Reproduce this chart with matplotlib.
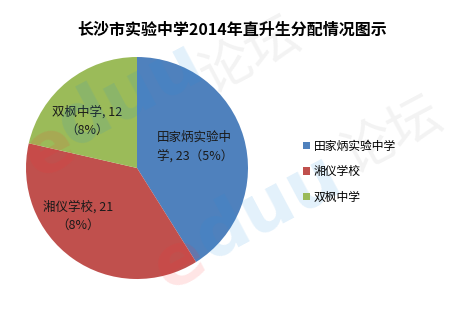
import matplotlib
matplotlib.use("Agg")
import matplotlib.pyplot as plt

plt.rcParams['font.family'] = ['Noto Sans CJK SC', 'DejaVu Sans']

# data
schools = ["田家炳实验中学", "湘仪学校", "双枫中学"]
counts = [23, 21, 12]
pct_text = ["5%", "8%", "8%"]
colors = ["#4F81BD", "#C0504D", "#9BBB59"]

W, H = 458, 313
fig = plt.figure(figsize=(W / 100, H / 100), dpi=100)

# pie centred at roughly (137, 168) px, radius ~111 px
cx, cy, r = 137, 168, 111
ax = fig.add_axes([(cx - r) / W, 1 - (cy + r) / H, 2 * r / W, 2 * r / H])
wedges, _ = ax.pie(counts, colors=colors, startangle=90, counterclock=False,
                   radius=1.0, wedgeprops=dict(linewidth=0))
ax.set_xlim(-1, 1)
ax.set_ylim(-1, 1)
ax.set_aspect("auto")
ax.axis("off")

# data labels
ax.text(0.18, 0.19, f"田家炳实验中\n学, {counts[0]}（{pct_text[0]}）",
        ha="left", va="center", fontsize=9, linespacing=1.5, color="#1a1a1a")
ax.text(-0.45, 0.42, f"{schools[2]}, {counts[2]}\n（{pct_text[2]}）",
        ha="center", va="center", fontsize=9, linespacing=1.5, color="#1a1a1a")
ax.text(-0.53, -0.43, f"{schools[1]}, {counts[1]}\n（{pct_text[1]}）",
        ha="center", va="center", fontsize=9, linespacing=1.5, color="#1a1a1a")

# title
fig.text(232 / W, 1 - 30 / H, "长沙市实验中学2014年直升生分配情况图示",
         ha="center", va="center", fontsize=11.5, fontweight="bold")

# legend
leg = fig.legend(wedges, schools, loc="upper left",
                 bbox_to_anchor=(297 / W, 1 - 134 / H), frameon=False,
                 fontsize=8.5, handlelength=0.6, handleheight=0.6,
                 handletextpad=0.3, labelspacing=1.05, borderpad=0)

# faint watermark
wm = dict(fontsize=52, fontweight="bold", alpha=0.13, rotation=28,
          ha="center", va="center", family=["DejaVu Sans"])
fig.text(50 / W, 1 - 150 / H, "e", color="#ff3030", **wm)
fig.text(130 / W, 1 - 95 / H, "duu", color="#2090e0", **wm)
fig.text(250 / W, 1 - 55 / H, "论坛", color="#999999", fontsize=38, alpha=0.12,
         rotation=28, ha="center", va="center")
fig.text(180 / W, 1 - 262 / H, "e", color="#ff3030", **wm)
fig.text(268 / W, 1 - 208 / H, "duu", color="#2090e0", **wm)
fig.text(392 / W, 1 - 135 / H, "论坛", color="#999999", fontsize=38, alpha=0.12,
         rotation=28, ha="center", va="center")

fig.savefig("out.png", dpi=100)
